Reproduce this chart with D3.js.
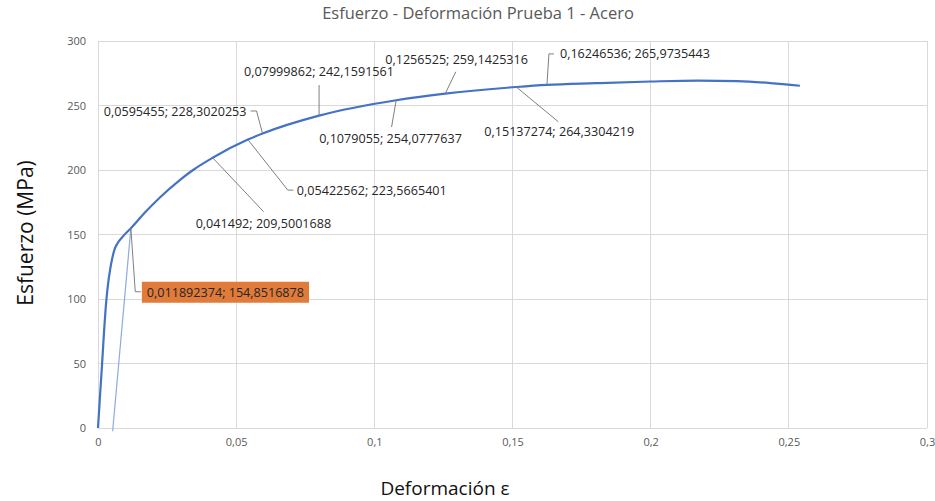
<!DOCTYPE html>
<html><head><meta charset="utf-8">
<script src="https://cdn.jsdelivr.net/npm/d3@7"></script>
<style>
html,body{margin:0;padding:0;background:#fff;}
svg{display:block;font-family:"Open Sans",sans-serif;}
</style></head>
<body>
<svg id="chart" width="935" height="501"></svg>
<script>
// ---- data ----
const strain = [0, 0.0007, 0.0014, 0.0022, 0.0029, 0.0036, 0.0044, 0.0052, 0.006, 0.0068, 0.0075, 0.0095, 0.011892374, 0.0169, 0.0224, 0.0296, 0.0344, 0.041492, 0.05422562, 0.0595455, 0.07999862, 0.1079055, 0.1256525, 0.15137274, 0.16246536, 0.18, 0.2, 0.217, 0.2314, 0.2434, 0.254];
const stress = [0, 24, 47, 75, 96, 111, 123, 132, 138.5, 142.3, 144.6, 149.7, 154.8516878, 166.8, 178.7, 192.2, 200, 209.5001688, 223.5665401, 228.3020253, 242.1591561, 254.0777637, 259.1425316, 264.3304219, 265.9735443, 267.3, 268.6, 269.3, 268.9, 267.4, 265.3];
const offsetStrain = [0.0053, 0.011892374];
const offsetStress = [-2.5, 154.8516878];
const labelStrain = [0.011892374, 0.041492, 0.05422562, 0.0595455, 0.07999862, 0.1079055, 0.1256525, 0.15137274, 0.16246536];
const labelStress = [154.8516878, 209.5001688, 223.5665401, 228.3020253, 242.1591561, 254.0777637, 259.1425316, 264.3304219, 265.9735443];
const xTicks = [0, 0.05, 0.1, 0.15, 0.2, 0.25, 0.3];
const xTickLabels = ["0", "0,05", "0,1", "0,15", "0,2", "0,25", "0,3"];
const yTicks = [0, 50, 100, 150, 200, 250, 300];
const yTickLabels = ["0", "50", "100", "150", "200", "250", "300"];
const title = "Esfuerzo - Deformación Prueba 1 - Acero";
const xTitle = "Deformación ε";
const yTitle = "Esfuerzo (MPa)";

// ---- layout (pixel offsets of data labels relative to their point) ----
const labelLayout = [
  {tx: 16, ty: 64, anchor: "start", leader: [[4.4, 63.5], [10, 63.5]], box: true},
  {tx: -17, ty: 65.5, anchor: "start", leader: [[51, 54]]},
  {tx: 49, ty: 50.5, anchor: "start", leader: [[40, 50.5], [45.5, 50.5]]},
  {tx: -16, ty: -22, anchor: "end", leader: [[-6, -22.5], [-12, -22.5]]},
  {tx: -75, ty: -44, anchor: "start", leader: [[0, -30.5]]},
  {tx: -77, ty: 38, anchor: "start", leader: [[-4.6, 26.8]]},
  {tx: -60, ty: -34, anchor: "start", leader: [[10.6, -22]]},
  {tx: -32, ty: 45, anchor: "start", leader: [[42, 34.7]]},
  {tx: 13, ty: -31, anchor: "start", leader: [[2, -31], [7, -31]]}
];

const svg = d3.select("#chart");
const x = d3.scaleLinear().domain([0, 0.3]).range([98, 927]);
const y = d3.scaleLinear().domain([0, 300]).range([428, 41]);

// gridlines
svg.append("g").selectAll("line").data(xTicks).join("line")
  .attr("x1", d => x(d)).attr("x2", d => x(d)).attr("y1", y(0)).attr("y2", y(300))
  .attr("stroke", "#d9d9d9").attr("stroke-width", 1).attr("shape-rendering", "crispEdges");
svg.append("g").selectAll("line").data(yTicks).join("line")
  .attr("x1", x(0)).attr("x2", x(0.3)).attr("y1", d => y(d)).attr("y2", d => y(d))
  .attr("stroke", "#d9d9d9").attr("stroke-width", 1).attr("shape-rendering", "crispEdges");

// axes tick labels
const xAxis = d3.axisBottom(x).tickValues(xTicks).tickFormat((d, i) => xTickLabels[i]).tickSize(0).tickPadding(10);
const gx = svg.append("g").attr("transform", `translate(0,${y(0)})`).call(xAxis);
gx.select(".domain").remove();
gx.selectAll("text").attr("fill", "#595959").style("font-size", "11px").style("font-family", "Open Sans, sans-serif");

const yAxis = d3.axisLeft(y).tickValues(yTicks).tickFormat((d, i) => yTickLabels[i]).tickSize(0).tickPadding(12);
const gy = svg.append("g").attr("transform", `translate(${x(0)},0)`).call(yAxis);
gy.select(".domain").remove();
gy.selectAll("text").attr("fill", "#595959").style("font-size", "11px").style("font-family", "Open Sans, sans-serif");

// titles
svg.append("text").attr("x", 478).attr("y", 19).attr("text-anchor", "middle")
  .attr("fill", "#595959").style("font-size", "16.5px").text(title);
svg.append("text").attr("x", 445).attr("y", 495).attr("text-anchor", "middle")
  .attr("fill", "#111").style("font-size", "19px").text(xTitle);
svg.append("text").attr("transform", "translate(33,233) rotate(-90)").attr("text-anchor", "middle")
  .attr("fill", "#111").style("font-size", "21px").text(yTitle);

// offset (elastic) line
const offData = offsetStrain.map((d, i) => [d, offsetStress[i]]);
svg.append("path").datum(offData)
  .attr("d", d3.line().x(d => x(d[0])).y(d => y(d[1])))
  .attr("fill", "none").attr("stroke", "#8faadc").attr("stroke-width", 1.2);

// main curve
const curveData = strain.map((d, i) => [d, stress[i]]);
svg.append("path").datum(curveData)
  .attr("d", d3.line().x(d => x(d[0])).y(d => y(d[1])).curve(d3.curveMonotoneX))
  .attr("fill", "none").attr("stroke", "#4472c4").attr("stroke-width", 2.2).attr("stroke-linejoin", "round");

// data labels
const fmt = v => String(v).replace(".", ",");
labelStrain.forEach((e, i) => {
  const px = x(e), py = y(labelStress[i]);
  const L = labelLayout[i];
  const pts = [[px, py]].concat(L.leader.map(p => [px + p[0], py + p[1]]));
  svg.append("path").attr("d", d3.line()(pts)).attr("fill", "none")
    .attr("stroke", "#7f7f7f").attr("stroke-width", 1);
  const g = svg.append("g");
  const t = g.append("text").attr("x", px + L.tx).attr("y", py + L.ty).attr("dy", "0.35em")
    .attr("text-anchor", L.anchor).attr("fill", "#262626").style("font-size", "12.6px")
    .text(fmt(e) + "; " + fmt(labelStress[i]));
  if (L.box) {
    const bb = t.node().getBBox();
    g.insert("rect", "text").attr("x", bb.x - 5).attr("y", py + L.ty - 10.5)
      .attr("width", bb.width + 10).attr("height", 21).attr("fill", "#e07b39");
  }
});
</script>
</body></html>
